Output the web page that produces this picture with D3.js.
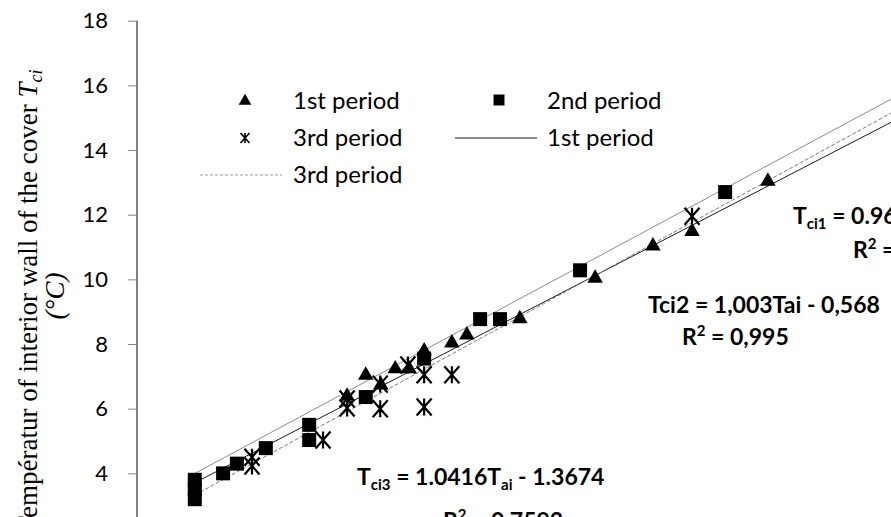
<!DOCTYPE html>
<html>
<head>
<meta charset="utf-8">
<script src="https://cdn.jsdelivr.net/npm/d3@7"></script>
<style>
  body { margin: 0; background: #fff; }
  svg { display: block; }
</style>
</head>
<body>
<svg id="chart"></svg>
<script>
// 1st period (triangles)
var p1Tai = [7.09, 7.40, 7.65, 7.89, 8.12, 8.37, 8.83, 9.08, 9.96, 11.21, 12.17, 12.82, 14.08];
var p1Tci = [6.35, 7.0, 6.7, 7.2, 7.2, 7.75, 8.0, 8.25, 8.75, 10.0, 11.0, 11.45, 13.0];
// 2nd period (squares)
var p2Tai = [4.56, 4.56, 4.56, 5.03, 5.26, 5.74, 6.46, 6.46, 7.40, 8.37, 9.30, 9.63, 10.96, 13.37];
var p2Tci = [3.8, 3.5, 3.2, 4.0, 4.3, 4.78, 5.5, 5.03, 6.36, 7.55, 8.77, 8.77, 10.28, 12.7];
// 3rd period (asterisks)
var p3Tai = [5.51, 5.51, 6.69, 7.09, 7.09, 7.64, 7.64, 8.10, 8.37, 8.37, 8.83, 12.82];
var p3Tci = [4.5, 4.23, 5.03, 6.3, 6.02, 6.76, 6.0, 7.35, 7.05, 6.05, 7.05, 11.95];

// trendlines: 1st, 2nd, 3rd
var trendSlope = [0.964, 1.001, 1.0216];
var trendIntercept = [-0.688, -0.568, -1.332];
var trendFrom = 4.56, trendTo = 17;

var yTicks = [4, 6, 8, 10, 12, 14, 16, 18];

var width = 891,
    height = 517;

var svg = d3.select("#chart")
    .attr("width", width)
    .attr("height", height)
    .style("font-family", "Lato, 'Open Sans', sans-serif");

var x = d3.scaleLinear().domain([3.6, 16.125]).range([137, 891]);
var y = d3.scaleLinear().domain([2, 18]).range([538, 20.7]);

// y axis
var yAxis = svg.append("g")
    .attr("transform", "translate(" + x.range()[0] + ",0)")
    .call(d3.axisLeft(y).tickValues(yTicks).tickSize(9).tickPadding(20).tickFormat(d3.format("d")));
yAxis.select(".domain").attr("stroke", "#000").attr("d", "M0," + y(18) + "V" + y(2));
yAxis.selectAll(".tick line").attr("stroke", "#868686");
yAxis.selectAll(".tick text")
    .style("font-size", "22px")
    .style("font-family", "Lato, sans-serif")
    .attr("fill", "#000");

// y axis title
var title = svg.append("text")
    .attr("transform", "translate(37,301) rotate(-90)")
    .attr("text-anchor", "middle")
    .style("font-family", "'Liberation Serif', 'Times New Roman', serif")
    .style("font-size", "27px");
title.append("tspan").text("Températur of interior wall of the cover ");
title.append("tspan").style("font-style", "italic").text("T");
title.append("tspan").style("font-style", "italic").style("font-size", "18px").attr("dy", 5).text("ci");

svg.append("text")
    .attr("transform", "translate(64,296) rotate(-90)")
    .attr("text-anchor", "middle")
    .style("font-family", "'Liberation Serif', 'Times New Roman', serif")
    .style("font-style", "italic")
    .style("font-size", "27px")
    .text("(°C)");

// trendlines
var trendColor = ["#1a1a1a", "#8c8c8c", "#7a7a7a"];
var trendDash = [null, null, "4,2"];
var trends = [0, 1, 2];

var line = d3.line()
    .x(function(d) { return x(d[0]); })
    .y(function(d) { return y(d[1]); });

svg.selectAll(".trend")
    .data(trends)
  .enter().append("path")
    .attr("class", "trend")
    .attr("fill", "none")
    .attr("stroke", function(i) { return trendColor[i]; })
    .attr("stroke-width", 1)
    .attr("stroke-dasharray", function(i) { return trendDash[i]; })
    .attr("d", function(i) {
        return line([trendFrom, trendTo].map(function(t) {
            return [t, trendSlope[i] * t + trendIntercept[i]];
        }));
    });

// markers
var tri = d3.symbol().type(d3.symbolTriangle).size(105);
var sq = d3.symbol().type(d3.symbolSquare).size(196);

function star(h, w) {
    return "M0," + (-h) + "V" + h +
        "M" + (-w) + "," + (-h) + "L" + w + "," + h +
        "M" + (-w) + "," + h + "L" + w + "," + (-h);
}

var pts2 = p2Tai.map(function(t, i) { return [t, p2Tci[i]]; });
var pts1 = p1Tai.map(function(t, i) { return [t, p1Tci[i]]; });
var pts3 = p3Tai.map(function(t, i) { return [t, p3Tci[i]]; });

svg.selectAll(".p1")
    .data(pts1)
  .enter().append("path")
    .attr("class", "p1")
    .attr("transform", function(d) { return "translate(" + x(d[0]) + "," + (y(d[1]) - 1) + ")"; })
    .attr("d", tri)
    .attr("fill", "#000");

svg.selectAll(".p2")
    .data(pts2)
  .enter().append("path")
    .attr("class", "p2")
    .attr("transform", function(d) { return "translate(" + x(d[0]) + "," + y(d[1]) + ")"; })
    .attr("d", sq)
    .attr("fill", "#000");

svg.selectAll(".p3")
    .data(pts3)
  .enter().append("path")
    .attr("class", "p3")
    .attr("transform", function(d) { return "translate(" + x(d[0]) + "," + y(d[1]) + ")"; })
    .attr("d", star(8.5, 7.5))
    .attr("fill", "none")
    .attr("stroke", "#000")
    .attr("stroke-width", 2.2);

// legend
var legend = svg.append("g").style("font-size", "24px");
legend.append("path").attr("transform", "translate(245,101)").attr("d", d3.symbol().type(d3.symbolTriangle).size(70)).attr("fill", "#000");
legend.append("text").attr("x", 293).attr("y", 109).text("1st period");
legend.append("path").attr("transform", "translate(499,100)").attr("d", d3.symbol().type(d3.symbolSquare).size(120)).attr("fill", "#000");
legend.append("text").attr("x", 547).attr("y", 109).text("2nd period");
legend.append("path").attr("transform", "translate(245,138)").attr("d", star(5, 4.5)).attr("fill", "none").attr("stroke", "#000").attr("stroke-width", 1.6);
legend.append("text").attr("x", 293).attr("y", 146).text("3rd period");
legend.append("line").attr("x1", 455).attr("x2", 537).attr("y1", 138).attr("y2", 138).attr("stroke", "#1a1a1a");
legend.append("text").attr("x", 547).attr("y", 146).text("1st period");
legend.append("line").attr("x1", 200).attr("x2", 282).attr("y1", 175).attr("y2", 175).attr("stroke", "#9a9a9a").attr("stroke-dasharray", "3,2");
legend.append("text").attr("x", 293).attr("y", 183).text("3rd period");

// equation labels
var eq = svg.append("g").style("font-size", "23px").style("font-weight", "bold");

function sub(t, s) {
    t.append("tspan").style("font-size", "15px").attr("dy", 5).text(s);
}
function back(t, s) {
    t.append("tspan").attr("dy", -5).text(s);
}
function rsq(xp, yp, s) {
    var r = eq.append("text").attr("x", xp).attr("y", yp);
    r.append("tspan").text("R");
    r.append("tspan").style("font-size", "15px").attr("dy", -9).text("2");
    r.append("tspan").attr("dy", 9).text(s);
}

var e1 = eq.append("text").attr("x", 793).attr("y", 224);
e1.append("tspan").text("T"); sub(e1, "ci1"); back(e1, " = 0.9640T"); sub(e1, "ai"); back(e1, " - 0.688");
rsq(853, 258, " = 0.98");

eq.append("text").attr("x", 648).attr("y", 313).text("Tci2 = 1,003Tai - 0,568");
rsq(682, 345, " = 0,995");

var e3 = eq.append("text").attr("x", 357).attr("y", 485);
e3.append("tspan").text("T"); sub(e3, "ci3"); back(e3, " = 1.0416T"); sub(e3, "ai"); back(e3, " - 1.3674");
rsq(443, 529, " = 0.7593");
</script>
</body>
</html>
